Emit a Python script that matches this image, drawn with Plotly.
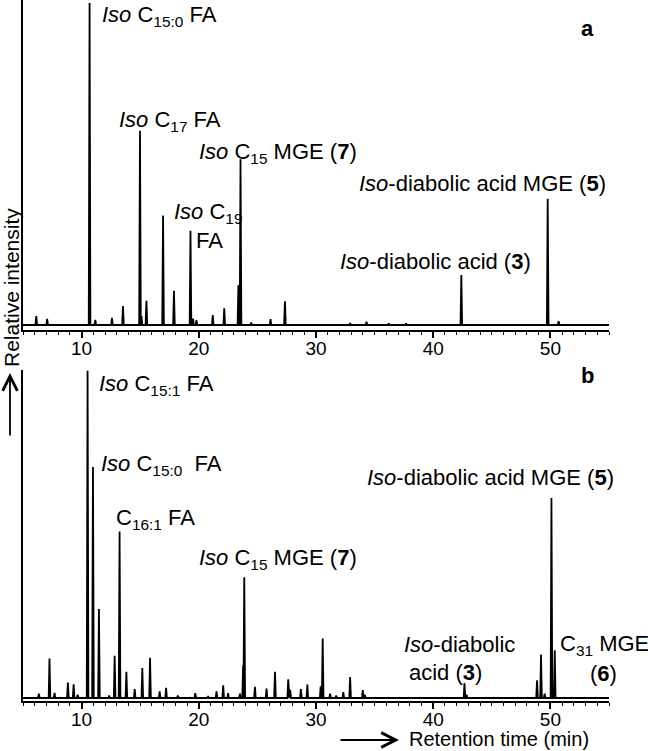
import plotly.graph_objects as go
from plotly.subplots import make_subplots

# ---------------- data ----------------
RUN_START = 5.0
RUN_END = 55.0
PEAK_HALF_WIDTH = 0.07

# panel a: retention time (min) and relative intensity
a_times = [6.13, 7.06, 10.68, 11.17, 12.59, 13.53, 14.98, 15.11, 15.53, 16.95, 17.88,
           19.29, 19.51, 19.80, 21.19, 22.17, 23.38, 23.56, 24.47, 26.12, 27.35,
           32.92, 34.31, 36.20, 37.69, 42.40, 49.77, 50.70]
a_heights = [2.8, 1.9, 100.0, 1.6, 2.2, 5.9, 60.3, 2.8, 7.5, 34.0, 10.6,
             29.3, 2.0, 1.5, 3.1, 5.2, 12.4, 51.5, 0.8, 1.8, 7.4,
             0.6, 1.0, 0.5, 0.5, 15.5, 39.2, 1.2]

# panel b
b_times = [6.35, 7.26, 7.69, 8.83, 9.32, 9.67, 10.51, 10.97, 11.48, 12.35, 12.82, 13.24,
           13.82, 14.53, 15.18, 15.84, 16.66, 17.21, 18.21, 19.70, 20.80, 21.51, 22.08,
           22.50, 23.51, 23.78, 23.88, 24.79, 25.78, 26.50, 27.63, 27.80, 28.71, 29.26,
           30.40, 30.57, 31.20, 31.72, 32.33, 32.91, 33.99, 34.16, 42.67, 42.85,
           48.86, 49.20, 49.51, 50.09, 50.37]
b_heights = [1.3, 12.1, 1.6, 4.7, 4.2, 1.0, 100.0, 70.6, 27.2, 0.8, 12.9, 50.9,
             8.0, 2.7, 9.2, 12.3, 2.0, 3.1, 0.8, 1.5, 0.6, 2.0, 3.9,
             1.5, 1.3, 10.0, 36.9, 3.4, 2.9, 8.0, 5.7, 2.5, 2.7, 4.1,
             3.6, 18.2, 1.3, 0.8, 1.8, 6.4, 2.4, 1.0, 4.6, 1.0,
             5.4, 13.3, 1.3, 61.1, 14.6]

x_tick_vals = [10, 20, 30, 40, 50]
x_tick_text = ["10", "20", "30", "40", "50"]


def trace_xy(times, heights):
    xs, ys = [RUN_START], [0.0]
    for t, h in sorted(zip(times, heights)):
        xs += [t - PEAK_HALF_WIDTH, t, t + PEAK_HALF_WIDTH]
        ys += [0.0, h, 0.0]
    xs.append(RUN_END)
    ys.append(0.0)
    return xs, ys


FONT = "Liberation Sans, Arial, sans-serif"

# plot area geometry in pixels
L, R, T, B = 23, 609, 0, 701
W, H = 648, 751
PW, PH = R - L, B - T


def px(xp):
    return (xp - L) / PW


def py(yp):
    return (B - yp) / PH


fig = make_subplots(rows=2, cols=1, shared_xaxes=False, vertical_spacing=0.05)

ax_, ay_ = trace_xy(a_times, a_heights)
bx_, by_ = trace_xy(b_times, b_heights)
fig.add_trace(go.Scatter(x=ax_, y=ay_, mode="lines", line=dict(color="black", width=1.8),
                         showlegend=False, hoverinfo="skip"), row=1, col=1)
fig.add_trace(go.Scatter(x=bx_, y=by_, mode="lines", line=dict(color="black", width=1.8),
                         showlegend=False, hoverinfo="skip"), row=2, col=1)

xaxis_style = dict(
    range=[RUN_START, RUN_END], showline=True, linecolor="black", linewidth=2,
    showgrid=False, zeroline=False, ticks="outside", ticklen=6, tickwidth=1.5,
    tickcolor="black", tickvals=x_tick_vals, ticktext=x_tick_text,
    ticklabelstandoff=-6,
    tickfont=dict(family=FONT, size=19, color="black"),
    minor=dict(dtick=1, tick0=0, ticks="outside", ticklen=3, tickwidth=1, tickcolor="black"),
)
yaxis_style = dict(showline=True, linecolor="black", linewidth=2, showgrid=False,
                   zeroline=False, showticklabels=False, ticks="")

fig.update_xaxes(**xaxis_style)
fig.update_yaxes(**yaxis_style)
fig.update_layout(
    xaxis=dict(domain=[0, 1]), xaxis2=dict(domain=[0, 1]),
    yaxis=dict(domain=[1 - 330 / PH, 1], range=[-1.55, 100.93]),
    yaxis2=dict(domain=[0, 331 / PH], range=[-0.91, 100.2]),
)

labels = [
    # (text, left px, center px)
    ("<i>Iso</i> C<sub>15:0</sub> FA", 100, 16),
    ("<i>Iso</i> C<sub>17</sub> FA", 117, 121),
    ("<i>Iso</i> C<sub>15</sub> MGE (<b>7</b>)", 197, 153),
    ("<i>Iso</i> C<sub>19</sub>", 172, 213),
    ("FA", 194, 240),
    ("<i>Iso</i>-diabolic acid MGE (<b>5</b>)", 357, 184),
    ("<i>Iso</i>-diabolic acid (<b>3</b>)", 338, 261),
    ("<i>Iso</i> C<sub>15:1</sub> FA", 97, 385),
    ("<i>Iso</i> C<sub>15:0</sub> \u00a0FA", 99, 465),
    ("C<sub>16:1</sub> FA", 114, 519),
    ("<i>Iso</i> C<sub>15</sub> MGE (<b>7</b>)", 197, 559),
    ("<i>Iso</i>-diabolic acid MGE (<b>5</b>)", 365, 478),
    ("<i>Iso</i>-diabolic", 402, 644),
    ("acid (<b>3</b>)", 407, 672),
    ("C<sub>31</sub> MGE", 558, 645),
    ("(<b>6</b>)", 588, 673),
]
annotations = []
for text, xl, yc in labels:
    annotations.append(dict(text=text, x=px(xl), y=py(yc), xref="paper", yref="paper",
                            xanchor="left", yanchor="middle", showarrow=False,
                            font=dict(family=FONT, size=22, color="black")))

for letter, yc in (("a", 28), ("b", 375)):
    annotations.append(dict(text=f"<b>{letter}</b>", x=px(587), y=py(yc), xref="paper",
                            yref="paper", xanchor="center", yanchor="middle",
                            showarrow=False, font=dict(family=FONT, size=22, color="black")))

# axis titles with arrows
annotations.append(dict(text="Relative intensity", textangle=-90, x=px(11), y=py(288),
                        xref="paper", yref="paper", xanchor="center", yanchor="middle",
                        showarrow=False, font=dict(family=FONT, size=21, color="black")))
annotations.append(dict(text="", x=px(10), y=py(373), xref="paper", yref="paper",
                        showarrow=True, ax=0, ay=64, arrowhead=5, arrowsize=1.6,
                        arrowwidth=1.8, arrowcolor="black", standoff=0))
annotations.append(dict(text="Retention time (min)", x=px(408), y=py(751),
                        xref="paper", yref="paper", xanchor="left", yanchor="bottom",
                        showarrow=False, borderpad=0,
                        font=dict(family=FONT, size=20, color="black")))
annotations.append(dict(text="", x=px(399), y=py(740), xref="paper", yref="paper",
                        showarrow=True, ax=-60, ay=0, arrowhead=5, arrowsize=1.6,
                        arrowwidth=1.8, arrowcolor="black", standoff=0))

fig.update_layout(
    width=W, height=H,
    margin=dict(l=L, r=W - R, t=T, b=H - B),
    paper_bgcolor="white", plot_bgcolor="white",
    annotations=annotations,
    font=dict(family=FONT, color="black"),
)

fig.write_html("out.html", config={"displayModeBar": False},
               post_script="document.body.style.margin='0';")
